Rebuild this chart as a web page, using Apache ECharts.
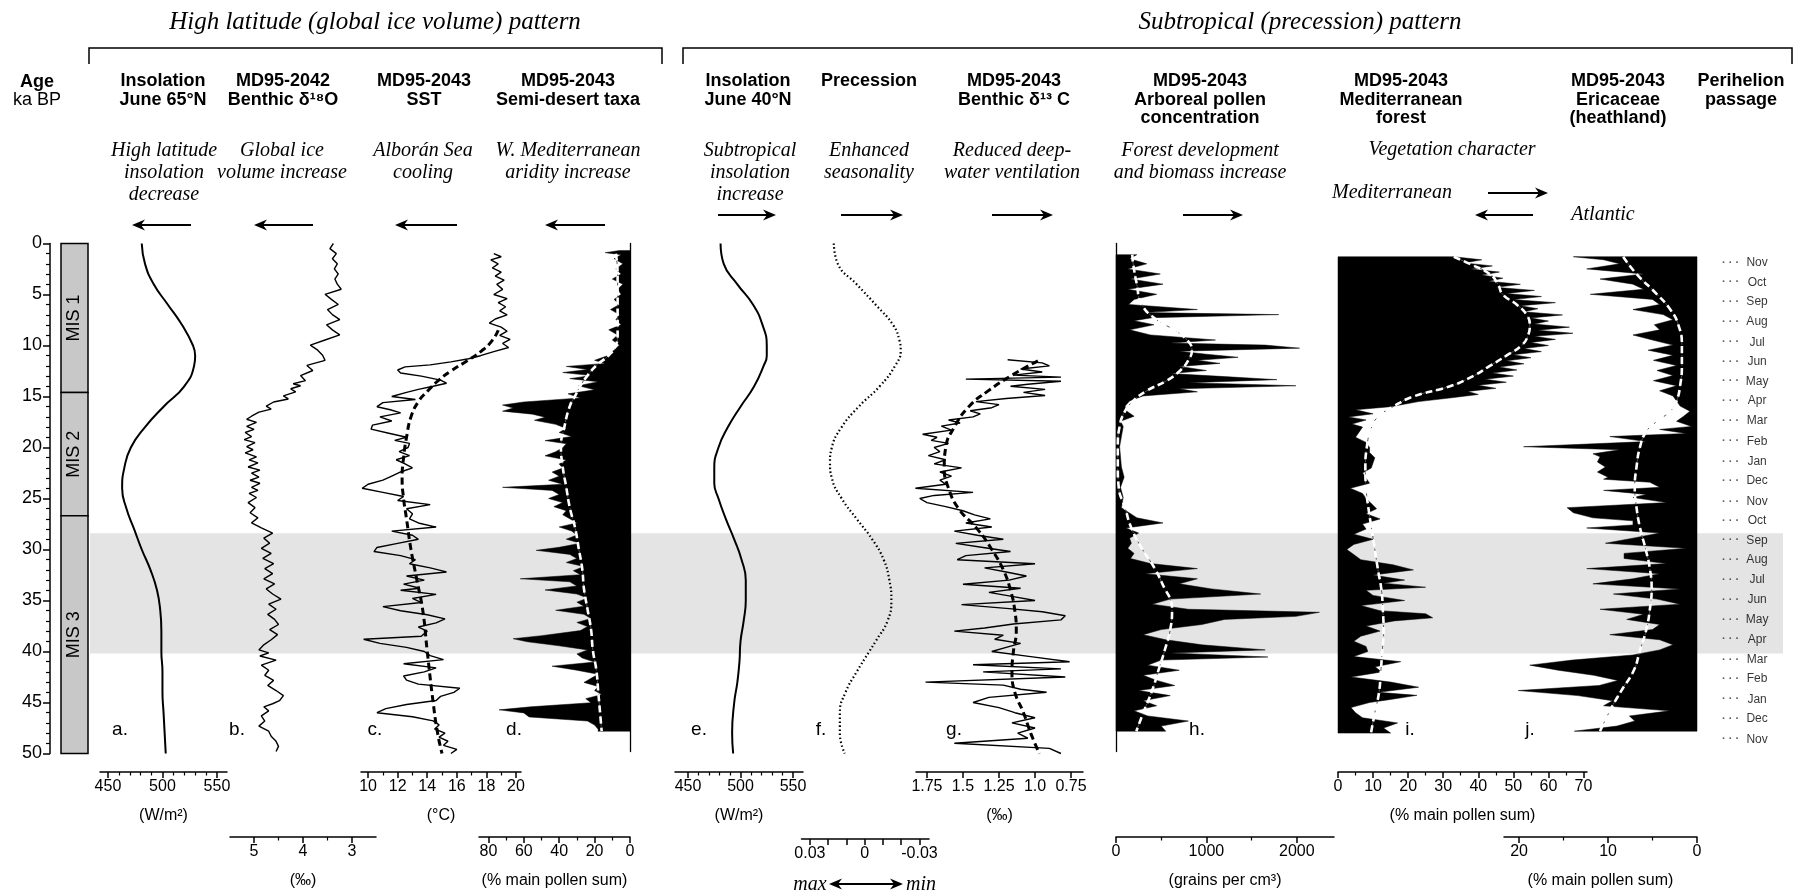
<!DOCTYPE html>
<html><head><meta charset="utf-8">
<script src="https://cdn.jsdelivr.net/npm/echarts@6/dist/echarts.min.js"></script>
<style>html,body{margin:0;padding:0;background:#fff}#c{width:1804px;height:894px}</style>
</head><body><div id="c"></div>
<script>
// ================= DATA =================
// Age axis (ka BP) and marine isotope stages
const ageTickStep = 5;
const misStart = [0, 14.6, 26.7];
const misEnd = [14.6, 26.7, 50];
const misLabel = ['MIS 1', 'MIS 2', 'MIS 3'];
const bandAge = [28.4, 40.2];               // shaded interval
const gisLabelAge = 37.1;

// a. Insolation June 65N  [age, W/m2]
const insol65 = [[0,481],[2,484],[4,492],[6,505],[8,518],[10,528],[11,530],[12,529],[14,520],[16,501],[18,484],[20,471],[22,465],[24,463],[26,467],[28,474],[30,481],[32,489],[34,495],[36,498],[38,499],[40,499],[42,500],[44,500],[46,501],[48,502],[50,503]];
// b. MD95-2042 benthic d18O [age, permil]
const d18O = [[0,3.38],[0.5,3.45],[1,3.32],[1.5,3.40],[2,3.30],[2.5,3.36],[3,3.28],[3.5,3.35],[4,3.30],[4.5,3.22],[5,3.55],[5.5,3.42],[6,3.28],[6.5,3.50],[7,3.40],[7.5,3.25],[8,3.52],[8.5,3.40],[9,3.25],[9.5,3.55],[10,3.85],[10.5,3.70],[11,3.60],[11.5,3.55],[12,3.92],[12.5,3.80],[13,4.05],[13.5,3.95],[13.8,4.20],[14,4.05],[14.3,4.25],[14.6,4.15],[15,4.40],[15.3,4.30],[15.6,4.60],[16,4.75],[16.3,4.65],[16.6,4.90],[17,5.05],[17.3,5.15],[17.6,4.95],[18,5.15],[18.3,5.00],[18.6,5.18],[19,5.05],[19.3,5.20],[19.6,4.98],[20,5.15],[20.3,5.02],[20.6,5.18],[21,4.95],[21.3,5.10],[21.6,4.92],[22,5.12],[22.3,4.88],[22.6,5.05],[23,4.90],[23.3,5.08],[23.6,4.88],[24,5.05],[24.3,4.92],[24.6,5.10],[25,4.95],[25.5,5.12],[26,4.98],[26.5,5.08],[27,4.92],[27.5,5.05],[28,4.85],[28.5,4.62],[29,4.80],[29.5,4.68],[30,4.85],[30.5,4.65],[31,4.82],[31.5,4.60],[32,4.78],[32.5,4.62],[33,4.80],[33.5,4.58],[34,4.75],[34.5,4.62],[35,4.45],[35.5,4.70],[36,4.55],[36.5,4.72],[37,4.58],[37.5,4.50],[38,4.68],[38.5,4.52],[39,4.65],[39.5,4.80],[40,4.90],[40.3,4.70],[40.6,4.88],[41,4.55],[41.5,4.85],[42,4.70],[42.5,4.78],[43,4.60],[43.5,4.72],[44,4.55],[44.5,4.40],[45,4.48],[45.3,4.62],[45.6,4.80],[46,4.70],[46.5,4.85],[47,4.78],[47.5,4.90],[48,4.70],[48.5,4.65],[49,4.55],[49.5,4.50],[50,4.55]];
// c. MD95-2043 SST [age, degC] and trend
const sst = [[1.0,18.5],[1.3,19.0],[1.6,18.3],[2.0,18.8],[2.4,18.4],[2.8,19.0],[3.2,18.6],[3.6,19.2],[4.0,18.7],[4.5,19.1],[5.0,18.5],[5.4,19.4],[5.8,18.8],[6.2,19.3],[6.6,18.9],[7.0,19.4],[7.4,18.6],[7.8,18.2],[8.2,19.0],[8.6,19.4],[9.0,18.9],[9.4,19.6],[9.8,19.1],[10.2,19.5],[10.6,18.5],[11.0,17.6],[11.3,16.8],[11.6,15.6],[11.9,14.2],[12.1,12.5],[12.4,12.0],[12.7,12.2],[13.0,13.6],[13.4,14.9],[13.7,15.3],[14.0,14.4],[14.3,13.4],[14.6,12.6],[15.0,11.6],[15.3,13.2],[15.6,11.0],[16.0,10.6],[16.3,11.5],[16.6,12.2],[17.0,10.8],[17.4,11.6],[17.8,10.3],[18.2,10.2],[18.6,11.4],[19.0,12.6],[19.3,11.8],[19.6,12.8],[20.0,12.7],[20.4,12.1],[20.8,12.8],[21.2,11.9],[21.6,12.5],[22.0,13.0],[22.4,12.2],[22.8,11.6],[23.2,11.0],[23.6,10.0],[24.0,9.6],[24.4,11.0],[24.8,12.4],[25.2,12.0],[25.6,14.2],[26.0,12.6],[26.5,13.0],[27.0,12.8],[27.4,13.4],[27.8,14.6],[28.2,11.6],[28.6,13.0],[29.0,13.4],[29.4,12.0],[29.8,10.6],[30.2,10.4],[30.6,12.2],[31.0,13.2],[31.4,12.8],[31.8,14.2],[32.2,15.3],[32.6,12.6],[33.0,13.8],[33.4,12.4],[33.8,13.5],[34.0,12.2],[34.4,14.6],[34.8,13.0],[35.2,13.6],[35.6,11.0],[36.0,12.2],[36.4,14.0],[36.8,15.2],[37.2,14.6],[37.6,13.4],[38.0,14.0],[38.5,13.6],[38.8,9.7],[39.2,10.8],[39.6,12.6],[40.0,13.8],[40.4,14.2],[40.8,15.1],[41.2,12.4],[41.6,14.6],[42.0,13.8],[42.4,12.4],[42.8,12.6],[43.2,13.4],[43.6,16.2],[44.0,15.8],[44.4,14.9],[44.8,14.6],[45.2,12.6],[45.6,11.2],[46.0,10.6],[46.4,13.0],[46.8,14.4],[47.2,14.8],[47.6,14.5],[48.0,15.2],[48.4,14.8],[48.8,15.4],[49.2,15.1],[49.6,16.0],[50.0,15.6]];
const sstTrend = [[8.5,18.8],[9.5,18.4],[10.5,17.7],[11.5,16.7],[12.5,15.6],[13.5,14.7],[14.5,14.0],[15.5,13.4],[17,12.9],[19,12.6],[21,12.4],[23,12.3],[25,12.4],[27,12.6],[30,12.9],[33,13.3],[36,13.7],[40,14.0],[45,14.4],[48,14.7],[50,15.0]];
// d. Semi-desert taxa [age, %] and trend
const semiDesert = [[0.7,6],[0.9,14],[1.1,5],[1.5,9],[2,4],[2.5,8],[3,5],[3.5,10],[4,4],[4.5,7],[5,5],[5.5,9],[6,6],[6.5,11],[7,6],[7.5,8],[8,5],[8.5,12],[9,7],[9.5,10],[10,6],[10.5,9],[11,12],[11.5,20],[11.8,14],[12.1,36],[12.4,24],[12.7,38],[13,22],[13.3,34],[13.6,18],[14,29],[14.4,20],[14.8,35],[15.2,28],[15.6,60],[15.9,72],[16.2,66],[16.5,72],[16.8,55],[17.1,48],[17.4,54],[17.8,42],[18.2,36],[18.6,40],[19,33],[19.4,48],[19.7,36],[20.1,38],[20.5,42],[20.9,48],[21.3,36],[21.7,40],[22.1,38],[22.5,44],[22.9,40],[23.3,46],[23.7,38],[24.0,72],[24.3,44],[24.7,40],[25.1,46],[25.5,38],[25.9,43],[26.3,36],[26.7,38],[27.1,34],[27.5,30],[27.9,40],[28.3,33],[28.7,30],[29.1,36],[29.5,28],[29.9,40],[30.2,53],[30.6,34],[31.0,30],[31.4,36],[31.8,26],[32.2,32],[32.6,28],[33.0,62],[33.3,34],[33.7,30],[34.1,48],[34.5,30],[34.9,24],[35.3,30],[35.7,26],[36.1,42],[36.5,26],[36.9,22],[37.3,30],[37.7,24],[38.1,28],[38.6,50],[38.9,66],[39.2,58],[39.6,40],[40.0,24],[40.4,30],[40.8,27],[41.2,20],[41.6,44],[42.0,30],[42.4,18],[42.8,22],[43.2,26],[43.6,18],[44.0,20],[44.4,16],[44.8,25],[45.2,22],[45.6,56],[45.9,74],[46.2,60],[46.6,57],[47.0,24],[47.4,20],[47.8,18],[48.0,18]];
const semiDesertTrend = [[1,8],[3,7],[5,7],[7,7],[9,7],[10,8],[11,12],[12,19],[13,24],[14,28],[15,31],[16,34],[18,37],[20,39],[22,38],[24,36],[26,34],[28,31],[30,29],[32,27],[34,26],[36,24],[38,22],[40,21],[42,19],[44,18],[46,17],[48,16]];
// e. Insolation June 40N [age, W/m2]
const insol40 = [[0,481],[2,484],[4,497],[6,512],[8,521],[10,525],[11,525],[12,522],[14,513],[16,500],[18,488],[20,479],[22,475],[23.5,475],[25,479],[27,486],[29,494],[31,501],[33,505],[35,505],[37,503],[39,500],[41,499],[43,497],[45,494],[48,492],[50,493]];
// f. Precession index [age, value]
const precession = [[0,0.0169],[2,0.0147],[4,0.0044],[6,-0.006],[8,-0.0156],[9.5,-0.019],[10.5,-0.0197],[12,-0.0166],[14,-0.0082],[16,0.0033],[18,0.0126],[20,0.018],[21.5,0.019],[23,0.018],[25,0.0126],[27,0.0044],[29,-0.0041],[31,-0.0104],[33,-0.0135],[35,-0.0146],[37,-0.0125],[39,-0.006],[40,-0.0025],[42,0.0044],[44,0.0105],[46,0.0136],[48,0.0136],[50,0.0109]];
// g. MD95-2043 benthic d13C [age, permil] and trend
const d13C = [[11.4,1.19],[11.7,0.95],[12.0,0.90],[12.3,1.10],[12.6,0.95],[12.9,1.15],[13.1,0.82],[13.3,1.48],[13.5,0.82],[13.8,1.05],[14.0,1.17],[14.3,0.93],[14.6,1.08],[14.9,0.93],[15.2,1.20],[15.5,1.41],[15.8,1.25],[16.1,1.30],[16.4,1.45],[16.7,1.38],[17.0,1.43],[17.3,1.60],[17.6,1.52],[17.9,1.65],[18.3,1.58],[18.7,1.78],[19.0,1.68],[19.3,1.72],[19.6,1.60],[20.0,1.70],[20.4,1.66],[20.8,1.74],[21.2,1.62],[21.6,1.70],[22.0,1.51],[22.4,1.66],[22.8,1.58],[23.2,1.66],[23.6,1.62],[24.0,1.83],[24.4,1.43],[24.7,1.70],[25.0,1.80],[25.4,1.75],[25.8,1.62],[26.2,1.50],[26.6,1.42],[27.0,1.31],[27.4,1.48],[27.8,1.30],[28.2,1.56],[28.6,1.40],[29.0,1.22],[29.4,1.55],[29.8,1.36],[30.2,1.17],[30.6,1.48],[31.0,1.54],[31.4,1.00],[31.8,1.35],[32.2,1.20],[32.6,1.06],[33.0,1.18],[33.4,1.50],[33.8,1.10],[34.2,1.32],[34.6,1.16],[35.0,1.00],[35.4,1.51],[35.8,1.18],[36.1,0.95],[36.5,0.79],[36.9,0.82],[37.3,1.15],[37.7,1.35],[38.0,1.56],[38.4,1.22],[38.8,1.28],[39.2,1.10],[39.6,1.20],[40.0,1.30],[40.5,1.03],[41.0,0.76],[41.3,1.43],[41.7,0.82],[42.0,1.36],[42.5,0.79],[43.0,1.76],[43.3,1.22],[43.7,1.10],[44.0,0.92],[44.5,1.32],[45.0,1.43],[45.5,1.25],[46.0,1.14],[46.5,1.00],[47.0,1.16],[47.5,1.00],[48.0,1.12],[48.5,1.05],[49.0,1.56],[49.5,0.90],[50.0,0.82]];
const d13CTrend = [[11.5,0.98],[13,1.17],[14.5,1.33],[16,1.46],[18,1.56],[20,1.62],[22,1.63],[24,1.60],[26,1.53],[28,1.40],[30,1.30],[32,1.22],[34,1.17],[36,1.14],[38,1.13],[40,1.15],[42,1.16],[44,1.14],[46,1.08],[48,1.03],[50,0.97]];
// h. Arboreal pollen concentration [age, grains/cm3] and trend
const apConc = [[1.1,230],[1.5,150],[2.0,340],[2.5,130],[3.0,490],[3.5,160],[4.0,520],[4.5,130],[5.0,450],[5.5,200],[6.0,140],[6.5,900],[6.8,300],[7.0,1800],[7.3,400],[7.6,200],[8.0,420],[8.5,150],[9.0,380],[9.5,1100],[9.8,600],[10.0,1650],[10.3,2030],[10.6,700],[10.9,1000],[11.2,1350],[11.5,900],[11.8,1150],[12.1,700],[12.5,1000],[12.8,600],[13.1,1200],[13.4,1780],[13.7,800],[14.0,1990],[14.3,700],[14.6,900],[15.0,300],[15.5,150],[16.0,100],[16.5,120],[17.0,200],[17.5,50],[18.0,80],[19.0,60],[20.0,40],[21.0,50],[22.0,60],[23.0,90],[24.0,50],[25.0,80],[26.0,60],[27.0,230],[27.5,520],[28.0,110],[28.5,250],[29.0,150],[29.5,170],[30.0,130],[30.5,200],[31.0,160],[31.5,380],[32.0,900],[32.5,320],[33.0,900],[33.5,700],[34.0,1060],[34.5,1600],[35.0,600],[35.5,400],[36.0,800],[36.3,2250],[36.7,1990],[37.0,1200],[37.5,950],[38.0,500],[38.5,300],[39.0,550],[39.5,950],[40.0,1650],[40.3,600],[40.7,1680],[41.0,500],[41.5,350],[42.0,700],[42.5,300],[43.0,450],[43.5,650],[44.0,250],[44.5,600],[45.0,300],[45.5,450],[46.0,200],[46.5,350],[47.0,800],[47.5,500],[48.0,550]];
const apConcTrend = [[1.1,180],[2,190],[4,230],[6,285],[7.5,450],[8.5,640],[9.5,785],[10.5,840],[11.5,800],[12.5,710],[13.5,560],[14.5,340],[15.5,190],[16.5,100],[18,40],[20,20],[22,20],[24,30],[26,100],[28,170],[30,285],[32,430],[34,540],[35,600],[36,620],[38,600],[40,540],[42,470],[44,400],[46,310],[48,225]];
// i. Mediterranean forest [age, %] and trend
const medForest = [[1.3,33],[1.6,41],[1.9,36],[2.2,44],[2.5,38],[2.8,46],[3.1,41],[3.4,47],[3.7,43],[4.0,52],[4.3,45],[4.6,56],[4.9,48],[5.2,58],[5.5,50],[5.8,62],[6.1,52],[6.4,57],[6.7,53],[7.0,64],[7.3,55],[7.6,60],[7.9,56],[8.2,66],[8.5,57],[8.8,67],[9.1,56],[9.4,62],[9.7,55],[10.0,60],[10.3,53],[10.6,58],[10.9,50],[11.2,55],[11.5,48],[11.8,53],[12.1,46],[12.4,51],[12.7,44],[13.0,50],[13.3,42],[13.6,48],[13.9,40],[14.2,45],[14.5,37],[14.8,40],[15.1,33],[15.5,23],[16.0,15],[16.3,5],[16.7,10],[17.0,3],[17.3,8],[17.7,4],[18.0,7],[18.5,6],[19.0,5],[19.5,8],[20.0,9],[20.5,9],[21.0,10.5],[21.5,10],[22.0,9.5],[22.5,7],[23.0,8],[23.5,9],[24.0,3.5],[24.5,7],[25.0,8],[25.5,9.5],[26.0,11],[26.5,8],[27.0,12],[27.5,7],[28.0,8],[28.5,4.5],[29.0,10],[29.5,4.5],[30.0,2.5],[30.5,4.5],[31.0,6.5],[31.5,15.7],[32.0,21.5],[32.5,10],[33.0,19],[33.3,13],[33.7,25],[34.0,8],[34.5,10],[35.0,19],[35.5,6.5],[36.0,12],[36.3,25],[36.7,27],[37.0,16],[37.5,8],[38.0,12],[38.5,6.5],[39.0,4.5],[39.5,8],[40.0,8.5],[40.5,4.5],[41.0,17.9],[41.5,10.6],[42.0,12.4],[42.5,3.7],[43.0,15],[43.5,23],[44.0,11.5],[44.3,22.5],[44.7,15],[45.0,9],[45.5,3.7],[46.0,5],[46.5,7],[47.0,17],[47.5,13],[48.0,15]];
const medForestTrend = [[1.3,33],[2,37.6],[3,43.3],[4,45.6],[5,47],[6,51],[7,53.8],[8,54.7],[9,54.2],[10,52.3],[11,48],[12,43.3],[13,38.5],[14,31.9],[15,21.5],[16,15.7],[17,11.4],[18,9.6],[20,8.2],[22,7.8],[24,8],[26,8.7],[28,9.6],[30,10.5],[32,11.4],[34,12.4],[36,12.8],[38,13],[40,12.6],[42,12.2],[44,11.7],[46,10.5],[48,9.4]];
// j. Ericaceae [age, %] and trend
const ericaceae = [[1.3,13.9],[1.6,10.5],[2.0,8.7],[2.5,12.4],[3.0,6.0],[3.5,10.9],[4.0,7.2],[4.5,6.0],[5.0,12.0],[5.5,5.0],[6.0,4.2],[6.5,7.2],[7.0,3.8],[7.5,2.7],[8.0,4.8],[8.5,4.2],[9.0,7.2],[9.5,5.0],[10.0,2.7],[10.5,5.5],[11.0,2.7],[11.5,4.9],[12.0,2.3],[12.5,4.5],[13.0,2.7],[13.5,4.9],[14.0,2.3],[14.5,4.2],[15.0,2.7],[15.5,2.3],[16.0,1.9],[16.5,0.8],[17.0,1.5],[17.5,2.3],[18.0,0.6],[18.3,4.2],[18.7,1.2],[19.0,9.8],[19.5,5.7],[20.0,19.5],[20.3,8.7],[20.7,11.7],[21.0,10.9],[21.5,11.2],[22.0,10.3],[22.5,11.2],[23.0,10.0],[23.2,10.5],[23.5,5.3],[24.0,4.2],[24.3,10.5],[24.7,5.7],[25.0,7.2],[25.5,3.4],[26.0,14.6],[26.5,13.9],[27.0,11.7],[27.3,7.2],[27.7,7.2],[28.0,12.4],[28.5,4.2],[29.0,7.2],[29.5,10.3],[30.0,1.2],[30.5,8.2],[31.0,8.2],[31.5,3.4],[32.0,12.4],[32.5,4.2],[33.0,7.2],[33.5,11.7],[34.0,1.9],[34.5,9.4],[35.0,4.5],[35.5,1.9],[36.0,10.9],[36.5,6.0],[37.0,7.9],[37.5,4.2],[38.0,5.0],[38.5,9.8],[39.0,4.2],[39.5,2.7],[40.0,4.2],[40.5,7.2],[41.0,14.0],[41.5,18.8],[42.0,15.6],[42.5,11.6],[43.0,8.9],[43.5,11.0],[44.0,20.1],[44.5,13.4],[45.0,9.5],[45.5,10.5],[46.0,3.1],[46.5,7.6],[47.0,7.0],[47.5,9.0],[48.0,13.8]];
const ericaceaeTrend = [[1.3,8.3],[3,6.8],[5,4.5],[6.5,3.0],[8,2.1],[10,1.7],[12,1.7],[14,1.9],[15.5,2.3],[16.5,3.0],[17.5,4.5],[18.5,5.7],[20,6.4],[22,6.8],[24,7.0],[26,6.8],[28,6.4],[30,5.8],[32,5.3],[34,5.1],[36,5.3],[38,5.7],[40,6.4],[42,7.1],[44,8.5],[46,9.8],[48,10.9]];
// Perihelion passage months
const periAge = [1.9,3.8,5.7,7.7,9.7,11.6,13.5,15.4,17.4,19.4,21.4,23.3,25.3,27.2,29.1,31.0,33.0,34.9,36.9,38.8,40.8,42.7,44.7,46.6,48.6];
const periMonth = ['Nov','Oct','Sep','Aug','Jul','Jun','May','Apr','Mar','Feb','Jan','Dec','Nov','Oct','Sep','Aug','Jul','Jun','May','Apr','Mar','Feb','Jan','Dec','Nov'];
// Bottom axis tick labels
const ticksA = [450,500,550], minorA = [460,470,480,490,510,520,530,540];
const ticksB = [3,4,5], minorB = [3.5,4.5];
const ticksC = [10,12,14,16,18,20], minorC = [11,13,15,17,19];
const ticksD = [0,20,40,60,80], minorD = [10,30,50,70];
const ticksE = [450,500,550], minorE = [460,470,480,490,510,520,530,540];
const ticksF = [-0.03,0,0.03], tickMarksF = [-0.03,-0.02,-0.01,0,0.01,0.02,0.03];
const ticksG = [0.75,1,1.25,1.5,1.75];
const ticksH = [0,1000,2000], minorH = [500,1500];
const ticksI = [0,10,20,30,40,50,60,70], minorI = [5,15,25,35,45,55,65];
const ticksJ = [0,10,20], minorJ = [5,15];

// ================= LAYOUT =================
const SANS = '"Liberation Sans", Arial, sans-serif';
const SERIF = '"Liberation Serif", "Times New Roman", serif';
const TOP = 243.5, H = 510, ROW1 = 18.5, ROW2 = 85.5;
const grids = [], xAxes = [], yAxes = [], series = [];
function mkGrid(l, r) { grids.push({ left: l, top: TOP, width: r - l, height: H }); return grids.length - 1; }
function hiddenX(gi) { xAxes.push({ gridIndex: gi, type: 'value', min: 0, max: 1, show: false, axisLine: { onZero: false } }); return xAxes.length - 1; }
function ageY(gi, extra) { yAxes.push(Object.assign({ gridIndex: gi, type: 'value', min: 0, max: 50, inverse: true, show: false, axisLine: { onZero: false } }, extra || {})); return yAxes.length - 1; }
const edgeLine = pos => ({ show: true, position: pos, axisLine: { show: true, onZero: false, lineStyle: { color: '#000', width: 1.3 } }, axisTick: { show: false }, axisLabel: { show: false }, splitLine: { show: false } });

function mkPanel(p) {
  const gi = mkGrid(p.left, p.right);
  const off = p.row === 1 ? ROW1 : ROW2;
  xAxes.push({ gridIndex: gi, type: 'value', position: 'bottom', offset: off, min: p.min, max: p.max, inverse: !!p.inv,
    axisLine: { show: true, onZero: false, lineStyle: { color: '#000', width: 1.5 } },
    axisTick: { show: true, length: 6, customValues: p.marks || p.labels, lineStyle: { color: '#000', width: 1.5 } },
    axisLabel: { show: true, customValues: p.labels, formatter: p.fmt || (v => String(v)), fontSize: 16, color: '#000', margin: 7, fontFamily: SANS },
    splitLine: { show: false }, name: p.name || '', nameLocation: 'middle', nameGap: 36,
    nameTextStyle: { fontSize: 16, color: '#000', fontFamily: SANS } });
  const xi = xAxes.length - 1;
  if (p.minor) xAxes.push({ gridIndex: gi, type: 'value', position: 'bottom', offset: off, min: p.min, max: p.max, inverse: !!p.inv,
    axisLine: { show: false, onZero: false }, axisTick: { show: true, length: 3.5, customValues: p.minor, lineStyle: { color: '#000', width: 1.2 } },
    axisLabel: { show: false }, splitLine: { show: false } });
  const yi = ageY(gi, p.yExtra);
  return { xi, yi };
}
function line(ax, pts, style, smooth, z) {
  series.push({ type: 'line', xAxisIndex: ax.xi, yAxisIndex: ax.yi, data: pts.map(p => [p[1], p[0]]), symbol: 'none', showSymbol: false,
    smooth: smooth || false, lineStyle: style, z: z || 3, silent: true, clip: false });
}
function fill(ax, pts) {
  series.push({ type: 'custom', xAxisIndex: ax.xi, yAxisIndex: ax.yi, data: [[0, pts[0][0]]], z: 2, silent: true, clip: false,
    renderItem: (params, api) => {
      const P = [api.coord([0, pts[0][0]])];
      pts.forEach(p => P.push(api.coord([p[1], p[0]])));
      P.push(api.coord([0, pts[pts.length - 1][0]]));
      return { type: 'polygon', shape: { points: P }, style: { fill: '#000', stroke: '#000', lineWidth: 0.5 } };
    } });
}
function whiteTrend(ax, pts) {
  line(ax, pts, { color: '#555', width: 1, type: [4, 3] }, true, 4);
  line(ax, pts, { color: '#fff', width: 2.6, type: [7, 4] }, true, 5);
}
const blackTrend = { color: '#000', width: 3, type: [7, 4] };

// shaded band across all panels
const bg = mkGrid(90, 1783); const bx = hiddenX(bg); const by = ageY(bg);
series.push({ type: 'custom', xAxisIndex: bx, yAxisIndex: by, data: [[0, bandAge[0], bandAge[1]]], z: 0, silent: true,
  renderItem: (params, api) => { const a = api.coord([0, api.value(1)]), b = api.coord([1, api.value(2)]);
    return { type: 'rect', shape: { x: a[0], y: a[1], width: b[0] - a[0], height: b[1] - a[1] }, style: { fill: '#e4e4e4' } }; } });

// age axis + MIS column
const mg = mkGrid(61, 88); const mx = hiddenX(mg);
const my = ageY(mg, { show: true, position: 'left', offset: 11, interval: ageTickStep,
  axisLine: { show: true, onZero: false, lineStyle: { color: '#000', width: 1.5 } },
  axisTick: { show: true, length: 7, lineStyle: { color: '#000', width: 1.5 } },
  minorTick: { show: true, splitNumber: 5, length: 4, lineStyle: { color: '#000', width: 1.2 } },
  axisLabel: { fontSize: 18, color: '#000', margin: 8, fontFamily: SANS }, splitLine: { show: false } });
series.push({ type: 'custom', xAxisIndex: mx, yAxisIndex: my, data: misStart.map((s, i) => [0, s, misEnd[i]]), z: 3, silent: true,
  renderItem: (params, api) => { const a = api.coord([0, api.value(1)]), b = api.coord([1, api.value(2)]);
    return { type: 'group', children: [
      { type: 'rect', shape: { x: a[0], y: a[1], width: b[0] - a[0], height: b[1] - a[1] }, style: { fill: '#c8c8c8', stroke: '#000', lineWidth: 1.5 } },
      { type: 'text', x: (a[0] + b[0]) / 2, y: (a[1] + b[1]) / 2, rotation: Math.PI / 2,
        style: { text: misLabel[params.dataIndex], font: '18px ' + SANS, fill: '#000', align: 'center', verticalAlign: 'middle' } } ] }; } });

// panels
const pa = mkPanel({ left: 100, right: 227, min: 442.7, max: 559.2, row: 1, labels: ticksA, minor: minorA, name: '(W/m²)' });
line(pa, insol65, { color: '#000', width: 2 }, true);
const pb = mkPanel({ left: 230, right: 376, min: 2.51, max: 5.49, inv: true, row: 2, labels: ticksB, minor: minorB, name: '(‰)' });
line(pb, d18O, { color: '#000', width: 1.4 });
const pc = mkPanel({ left: 361, right: 521, min: 9.52, max: 20.34, row: 1, labels: ticksC, minor: minorC, name: '(°C)' });
line(pc, sst, { color: '#000', width: 1.4 });
line(pc, sstTrend, blackTrend, true, 4);
const pd = mkPanel({ left: 479, right: 630, min: 0, max: 85.3, inv: true, row: 2, labels: ticksD, minor: minorD, name: '(% main pollen sum)', yExtra: edgeLine('right') });
fill(pd, semiDesert); whiteTrend(pd, semiDesertTrend);
const pe = mkPanel({ left: 675, right: 803, min: 437.6, max: 559.5, row: 1, labels: ticksE, minor: minorE, name: '(W/m²)' });
line(pe, insol40, { color: '#000', width: 2 }, true);
const pf = mkPanel({ left: 801.5, right: 929, min: -0.0352, max: 0.0346, inv: true, row: 2, labels: ticksF, marks: tickMarksF, name: '' });
line(pf, precession, { color: '#000', width: 2.2, type: [1.5, 2.5] }, true);
const pg = mkPanel({ left: 916, right: 1083, min: 0.667, max: 1.826, inv: true, row: 1, labels: ticksG, fmt: v => (v === 1 ? '1.0' : String(v)), name: '(‰)' });
line(pg, d13C, { color: '#000', width: 1.4 });
line(pg, d13CTrend, blackTrend, true, 4);
const ph = mkPanel({ left: 1116, right: 1334, min: 0, max: 2411, row: 2, labels: ticksH, minor: minorH, name: '(grains per cm³)', yExtra: edgeLine('left') });
fill(ph, apConc); whiteTrend(ph, apConcTrend);
const pi = mkPanel({ left: 1338, right: 1587, min: 0, max: 71, row: 1, labels: ticksI, minor: minorI, name: '(% main pollen sum)' });
fill(pi, medForest); whiteTrend(pi, medForestTrend);
const pj = mkPanel({ left: 1504, right: 1697, min: 0, max: 21.7, inv: true, row: 2, labels: ticksJ, minor: minorJ, name: '(% main pollen sum)' });
fill(pj, ericaceae); whiteTrend(pj, ericaceaeTrend);

// perihelion passage
const pgI = mkGrid(1722, 1782); const ppx = hiddenX(pgI); const ppy = ageY(pgI);
series.push({ type: 'scatter', xAxisIndex: ppx, yAxisIndex: ppy, data: periAge.map(a => [0, a]), symbolSize: 0.1, silent: true, z: 6,
  label: { show: true, position: 'right', distance: 0, formatter: p => '{d|· · ·}{m|' + periMonth[p.dataIndex] + '}',
    rich: { d: { fontSize: 11, fontWeight: 'bold', width: 22, color: '#333', fontFamily: SANS }, m: { fontSize: 12, width: 26, align: 'center', color: '#000', fontFamily: SANS } } } });

// ================= ANNOTATIONS =================
const gfx = [];
function T(x, y, text, font, extra) { gfx.push({ type: 'text', x, y, silent: true, style: Object.assign({ text, font, fill: '#000', align: 'center', verticalAlign: 'middle' }, extra || {}) }); }
function arrow(x1, x2, y, dir) {
  const hx = dir === 'l' ? x1 : x2, s = dir === 'l' ? 1 : -1;
  gfx.push({ type: 'line', silent: true, shape: { x1: dir === 'l' ? x1 + 8 : x1, y1: y, x2: dir === 'l' ? x2 : x2 - 8, y2: y }, style: { stroke: '#000', lineWidth: 2 } });
  gfx.push({ type: 'polygon', silent: true, shape: { points: [[hx, y], [hx + s * 13, y - 5.5], [hx + s * 9, y], [hx + s * 13, y + 5.5]] }, style: { fill: '#000' } });
}
const BOLD = 'bold 18px ' + SANS, REG = '18px ' + SANS, ITAL = 'italic 20px ' + SERIF;
// titles and brackets
T(375, 22, 'High latitude (global ice volume) pattern', 'italic 25px ' + SERIF);
T(1300, 22, 'Subtropical (precession) pattern', 'italic 25px ' + SERIF);
gfx.push({ type: 'polyline', silent: true, shape: { points: [[89, 64], [89, 48], [662, 48], [662, 64]] }, style: { stroke: '#000', lineWidth: 1.5, fill: null } });
gfx.push({ type: 'polyline', silent: true, shape: { points: [[683, 64], [683, 48], [1792, 48], [1792, 64]] }, style: { stroke: '#000', lineWidth: 1.5, fill: null } });
// headers
T(37, 82, 'Age', BOLD); T(37, 100, 'ka BP', REG);
const hdr = [[163, 'Insolation\nJune 65°N'], [283, 'MD95-2042\nBenthic δ¹⁸O'], [424, 'MD95-2043\nSST'], [568, 'MD95-2043\nSemi-desert taxa'],
  [748, 'Insolation\nJune 40°N'], [869, 'Precession'], [1014, 'MD95-2043\nBenthic δ¹³ C'], [1200, 'MD95-2043\nArboreal pollen\nconcentration'],
  [1401, 'MD95-2043\nMediterranean\nforest'], [1618, 'MD95-2043\nEricaceae\n(heathland)'], [1741, 'Perihelion\npassage']];
hdr.forEach(h => T(h[0], 72, h[1], BOLD, { verticalAlign: 'top', lineHeight: 18.5 }));
const sub = [[164, 'High latitude\ninsolation\ndecrease'], [282, 'Global ice\nvolume increase'], [423, 'Alborán Sea\ncooling'], [568, 'W. Mediterranean\naridity increase'],
  [750, 'Subtropical\ninsolation\nincrease'], [869, 'Enhanced\nseasonality'], [1012, 'Reduced deep-\nwater ventilation'], [1200, 'Forest development\nand biomass increase']];
sub.forEach(s => T(s[0], 140, s[1], ITAL, { verticalAlign: 'top', lineHeight: 22 }));
T(1452, 150, 'Vegetation character', ITAL);
T(1392, 193, 'Mediterranean', ITAL);
T(1603, 215, 'Atlantic', ITAL);
// direction arrows
arrow(132, 191, 225, 'l'); arrow(254, 313, 225, 'l'); arrow(395, 457, 225, 'l'); arrow(545, 605, 225, 'l');
arrow(718, 776, 215, 'r'); arrow(841, 903, 215, 'r'); arrow(992, 1053, 215, 'r'); arrow(1183, 1243, 215, 'r');
arrow(1488, 1548, 193, 'r'); arrow(1475, 1533, 215, 'l');
// panel letters
[[120, 'a.'], [237, 'b.'], [375, 'c.'], [514, 'd.'], [699, 'e.'], [821, 'f.'], [954, 'g.'], [1197, 'h.'], [1410, 'i.'], [1530, 'j.']]
  .forEach(l => T(l[0], 730, l[1], '19px ' + SANS));
// precession axis legend
T(810, 885, 'max', ITAL); T(921, 885, 'min', ITAL);
gfx.push({ type: 'line', silent: true, shape: { x1: 838, y1: 884, x2: 894, y2: 884 }, style: { stroke: '#000', lineWidth: 2.2 } });
gfx.push({ type: 'polygon', silent: true, shape: { points: [[829, 884], [842, 878.5], [838, 884], [842, 889.5]] }, style: { fill: '#000' } });
gfx.push({ type: 'polygon', silent: true, shape: { points: [[903, 884], [890, 878.5], [894, 884], [890, 889.5]] }, style: { fill: '#000' } });

const chart = echarts.init(document.getElementById('c'), null, { renderer: 'canvas' });
chart.setOption({ animation: false, backgroundColor: '#fff', textStyle: { fontFamily: SANS },
  grid: grids, xAxis: xAxes, yAxis: yAxes, series: series, graphic: { elements: gfx } });
// GIS 8 label placed at its age via the band grid scale
const gp = chart.convertToPixel({ gridIndex: bg }, [0, gisLabelAge]);
chart.setOption({ graphic: { elements: gfx.concat([{ type: 'text', x: 1471, y: gp[1], silent: true, style: { text: 'GIS 8', font: '19px ' + SANS, fill: '#000', align: 'center', verticalAlign: 'middle' } }]) } });
</script></body></html>
